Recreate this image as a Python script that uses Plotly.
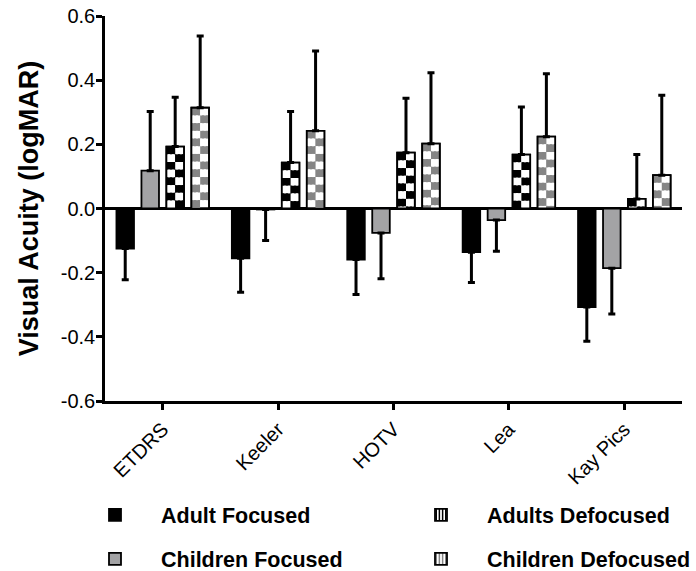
import plotly.graph_objects as go

# ---------------- data ----------------
categories = ["ETDRS", "Keeler", "HOTV", "Lea", "Kay Pics"]

adult_focused = [-0.125, -0.155, -0.159, -0.136, -0.307]
adult_focused_err = [0.097, 0.106, 0.109, 0.095, 0.107]

children_focused = [0.118, -0.003, -0.076, -0.036, -0.186]
children_focused_err = [0.184, 0.097, 0.143, 0.097, 0.143]

adults_defocused = [0.193, 0.143, 0.174, 0.168, 0.030]
adults_defocused_err = [0.154, 0.159, 0.170, 0.148, 0.138]

children_defocused = [0.314, 0.242, 0.202, 0.224, 0.104]
children_defocused_err = [0.224, 0.249, 0.221, 0.196, 0.249]

y_tick_vals = [-0.6, -0.4, -0.2, 0.0, 0.2, 0.4, 0.6]
y_tick_text = ["-0.6", "-0.4", "-0.2", "0.0", "0.2", "0.4", "0.6"]

# ---------------- styles ----------------
FONT = "Liberation Sans, Arial, sans-serif"
GRAY_SOLID = "#a3a3a5"
GRAY_CHECK = "#858585"
PITCH = 0.2165      # distance between bar slots (category units)
BAR_W = 0.152       # bar width (category units)
CELL_H = 0.024      # checker cell height (data units)
LINE_W = 1.8
SLOTS = [-1.5 * PITCH, -0.5 * PITCH, 0.5 * PITCH, 1.5 * PITCH]


def err_kw(vals, errs):
    return dict(
        type="data", symmetric=False,
        array=[e if v >= 0 else 0 for v, e in zip(vals, errs)],
        arrayminus=[e if v < 0 else 0 for v, e in zip(vals, errs)],
        color="black", thickness=3, width=3.5,
    )


def checker_traces(vals, center, color):
    out = []
    for col in (0, 1):
        xs, bases, heights, colors = [], [], [], []
        for cat, v in zip(categories, vals):
            sign = 1 if v >= 0 else -1
            a = abs(v)
            k = 0
            while k * CELL_H < a - 1e-9:
                top = a - k * CELL_H
                bot = max(0.0, a - (k + 1) * CELL_H)
                xs.append(cat)
                bases.append(sign * bot)
                heights.append(sign * (top - bot))
                colors.append(color if (k + col) % 2 == 0 else "white")
                k += 1
        out.append(go.Bar(
            x=xs, y=heights, base=bases,
            offset=center - BAR_W / 2 + col * BAR_W / 2, width=BAR_W / 2,
            marker=dict(color=colors, line=dict(width=0)),
            showlegend=False, hoverinfo="skip",
        ))
    return out


fig = go.Figure()

# Adult Focused
fig.add_trace(go.Bar(
    name="Adult Focused", x=categories, y=adult_focused,
    offset=SLOTS[0] - BAR_W / 2, width=BAR_W,
    marker=dict(color="black", line=dict(color="black", width=LINE_W)),
    error_y=err_kw(adult_focused, adult_focused_err),
    legend="legend",
))

# Children Focused
fig.add_trace(go.Bar(
    name="Children Focused", x=categories, y=children_focused,
    offset=SLOTS[1] - BAR_W / 2, width=BAR_W,
    marker=dict(color=GRAY_SOLID, line=dict(color="black", width=LINE_W)),
    error_y=err_kw(children_focused, children_focused_err),
    legend="legend3",
))

# Defocused series: legend-bearing base, checker cells, outline + error bars
for name, vals, errs, slot, col, leg in [
    ("Adults Defocused", adults_defocused, adults_defocused_err, SLOTS[2], "black", "legend2"),
    ("Children Defocused", children_defocused, children_defocused_err, SLOTS[3], GRAY_CHECK, "legend4"),
]:
    fig.add_trace(go.Bar(
        name=name, x=categories, y=vals,
        offset=slot - BAR_W / 2, width=BAR_W,
        marker=dict(color="white", line=dict(color="black", width=LINE_W),
                    pattern=dict(shape="|", fgcolor=col, bgcolor="white",
                                 size=4, solidity=0.5, fillmode="replace")),
        legend=leg,
    ))
    for t in checker_traces(vals, slot, col):
        fig.add_trace(t)
    fig.add_trace(go.Bar(
        x=categories, y=vals,
        offset=slot - BAR_W / 2, width=BAR_W,
        marker=dict(color="rgba(0,0,0,0)", line=dict(color="black", width=LINE_W)),
        error_y=err_kw(vals, errs),
        showlegend=False,
    ))


def legend_box(x, y):
    return dict(
        x=x, y=y, xanchor="left", yanchor="middle",
        orientation="h", itemwidth=82,
        font=dict(family=FONT, size=21.5, color="black", weight="bold"),
        bgcolor="rgba(0,0,0,0)",
    )


COL1_X, COL2_X = -0.0624, 0.5026
ROW1_Y, ROW2_Y = -0.296, -0.410

fig.update_layout(
    width=696, height=571,
    margin=dict(l=105, r=14, t=16, b=170, autoexpand=False),
    paper_bgcolor="white", plot_bgcolor="white",
    barmode="overlay",
    font=dict(family=FONT, color="black"),
    legend=legend_box(COL1_X, ROW1_Y),
    legend2=legend_box(COL2_X, ROW1_Y),
    legend3=legend_box(COL1_X, ROW2_Y),
    legend4=legend_box(COL2_X, ROW2_Y),
    xaxis=dict(
        type="category", categoryorder="array", categoryarray=categories,
        range=[-0.5, 4.5],
        showline=True, linecolor="black", linewidth=2.5,
        ticks="outside", ticklen=6, tickwidth=2.5, tickcolor="black",
        tickangle=-45, tickfont=dict(family=FONT, size=20, color="black"),
        ticklabeloverflow="allow",
        showgrid=False, zeroline=False,
    ),
    yaxis=dict(
        range=[-0.6, 0.6],
        tickvals=y_tick_vals, ticktext=y_tick_text,
        showline=True, linecolor="black", linewidth=2.5,
        ticks="outside", ticklen=6, tickwidth=2.5, tickcolor="black",
        tickfont=dict(family=FONT, size=20, color="black"),
        ticklabelstandoff=-3, ticklabeloverflow="allow",
        showgrid=False,
        zeroline=True, zerolinecolor="black", zerolinewidth=2.5,
        title=dict(text="Visual Acuity (logMAR)",
                   font=dict(family=FONT, size=27, color="black", weight="bold"),
                   standoff=15),
    ),
)

# remove the page's default body margin so the figure fills the window exactly
fig.write_html("out.html", config={"displayModeBar": False},
               post_script="document.body.style.margin='0';")
